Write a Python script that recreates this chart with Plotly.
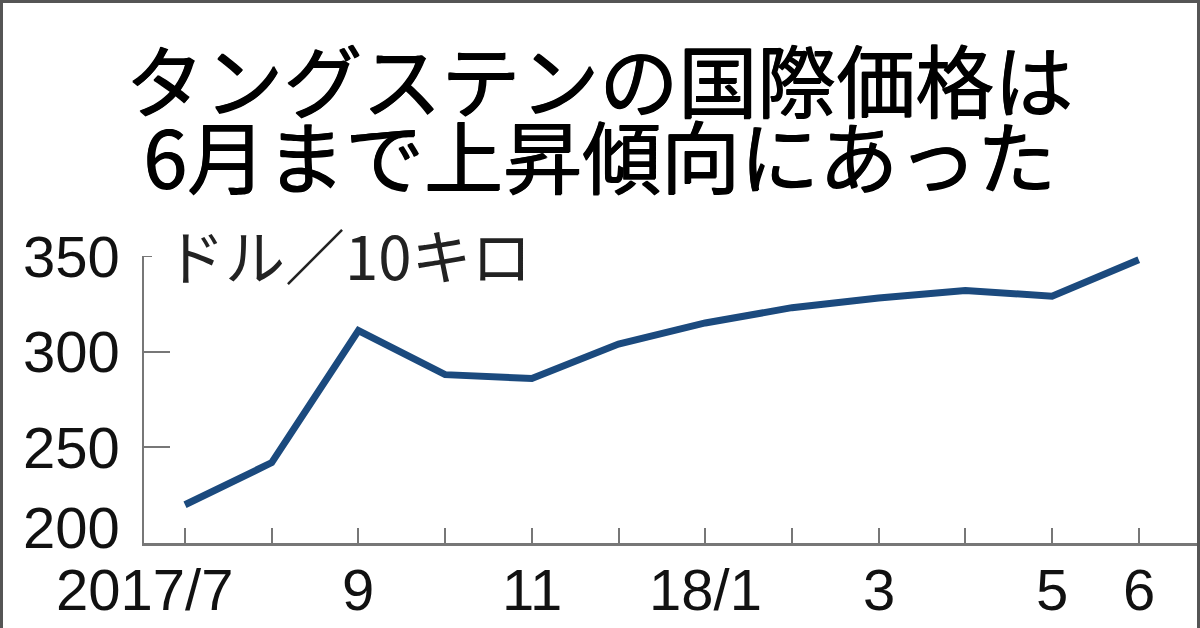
import plotly.graph_objects as go

# ---- data ----
months = ["2017/7", "2017/8", "2017/9", "2017/10", "2017/11", "2017/12",
          "2018/1", "2018/2", "2018/3", "2018/4", "2018/5", "2018/6"]
prices = [220, 242, 311, 288, 286, 304, 315, 323, 328, 332, 329, 348]
x_label_idx = [0, 2, 4, 6, 8, 10, 11]
x_label_text = ["2017/7", "9", "11", "18/1", "3", "5", "6"]
y_ticks = [200, 250, 300, 350]
title_lines = ["タングステンの国際価格は", "6月まで上昇傾向にあった"]
unit_text = "ドル／10キロ"

# ---- geometry (pixels) ----
W, H = 1200, 628
L, R, T, B = 144, 3, 256, 85
PW, PH = W - L - R, H - T - B
XMIN, XMAX = -0.473, 11.672


def px_x(p):
    return (p - L) / PW


def px_y(p):
    return (H - B - p) / PH


NUM_FONT = "Liberation Sans, Arial, sans-serif"
JP_FONT = "Noto Sans CJK JP, sans-serif"

fig = go.Figure()
fig.add_trace(go.Scatter(
    x=list(range(len(months))), y=prices, mode="lines",
    line=dict(color="#1b4a7e", width=7),
    hoverinfo="skip", showlegend=False,
))

annotations = []
# title
for txt, cy in zip(title_lines, [77, 153]):
    annotations.append(dict(
        text=txt, xref="paper", yref="paper", x=px_x(599), y=px_y(cy),
        xanchor="center", yanchor="middle", showarrow=False,
        font=dict(family=JP_FONT, size=79, color="#000000",
                  shadow="1px 0px 0px #000000, 0px 1px 0px #000000"),
    ))
# unit
annotations.append(dict(
    text=unit_text, xref="paper", yref="y", x=px_x(163), y=350,
    xanchor="left", yanchor="middle", showarrow=False, yshift=3,
    font=dict(family=JP_FONT, size=60, color="#222222"),
))
# y labels
for v in y_ticks:
    annotations.append(dict(
        text=str(v), xref="paper", yref="y", x=px_x(122), y=v,
        xanchor="right", yanchor="middle", showarrow=False,
        yshift=16 if v == 200 else 0,
        font=dict(family=NUM_FONT, size=58, color="#111111"),
    ))
# x labels
for i, t in zip(x_label_idx, x_label_text):
    first = (i == 0)
    annotations.append(dict(
        text=t, xref="x", yref="paper", x=i, y=px_y(555),
        xanchor="right" if first else "center", yanchor="top",
        xshift=50 if first else 0, showarrow=False,
        font=dict(family=NUM_FONT, size=58, color="#111111"),
    ))

shapes = [
    # outer frame
    dict(type="rect", xref="paper", yref="paper",
         x0=px_x(1.5), x1=px_x(W - 1.5), y0=px_y(H + 20), y1=px_y(1.5),
         line=dict(color="#555555", width=3), fillcolor="rgba(0,0,0,0)"),
    # short tick at 350
    dict(type="line", xref="paper", yref="y", x0=0, x1=px_x(L + 8), y0=350, y1=350,
         line=dict(color="#777777", width=2)),
]

fig.update_layout(
    width=W, height=H,
    margin=dict(l=L, r=R, t=T, b=B, pad=0),
    paper_bgcolor="white", plot_bgcolor="white",
    annotations=annotations, shapes=shapes,
    xaxis=dict(range=[XMIN, XMAX], showgrid=False, zeroline=False,
               showline=True, linecolor="#777777", linewidth=3,
               ticks="inside", ticklen=15, tickwidth=2, tickcolor="#777777",
               tickvals=list(range(len(months))), showticklabels=False),
    yaxis=dict(range=[200, 350], showgrid=False, zeroline=False,
               showline=True, linecolor="#777777", linewidth=2,
               ticks="inside", ticklen=26, tickwidth=2, tickcolor="#777777",
               tickvals=[250, 300], showticklabels=False),
)

fig.write_html("out.html", config={"displayModeBar": False},
               post_script="document.body.style.margin='0';document.body.style.overflow='hidden';")
